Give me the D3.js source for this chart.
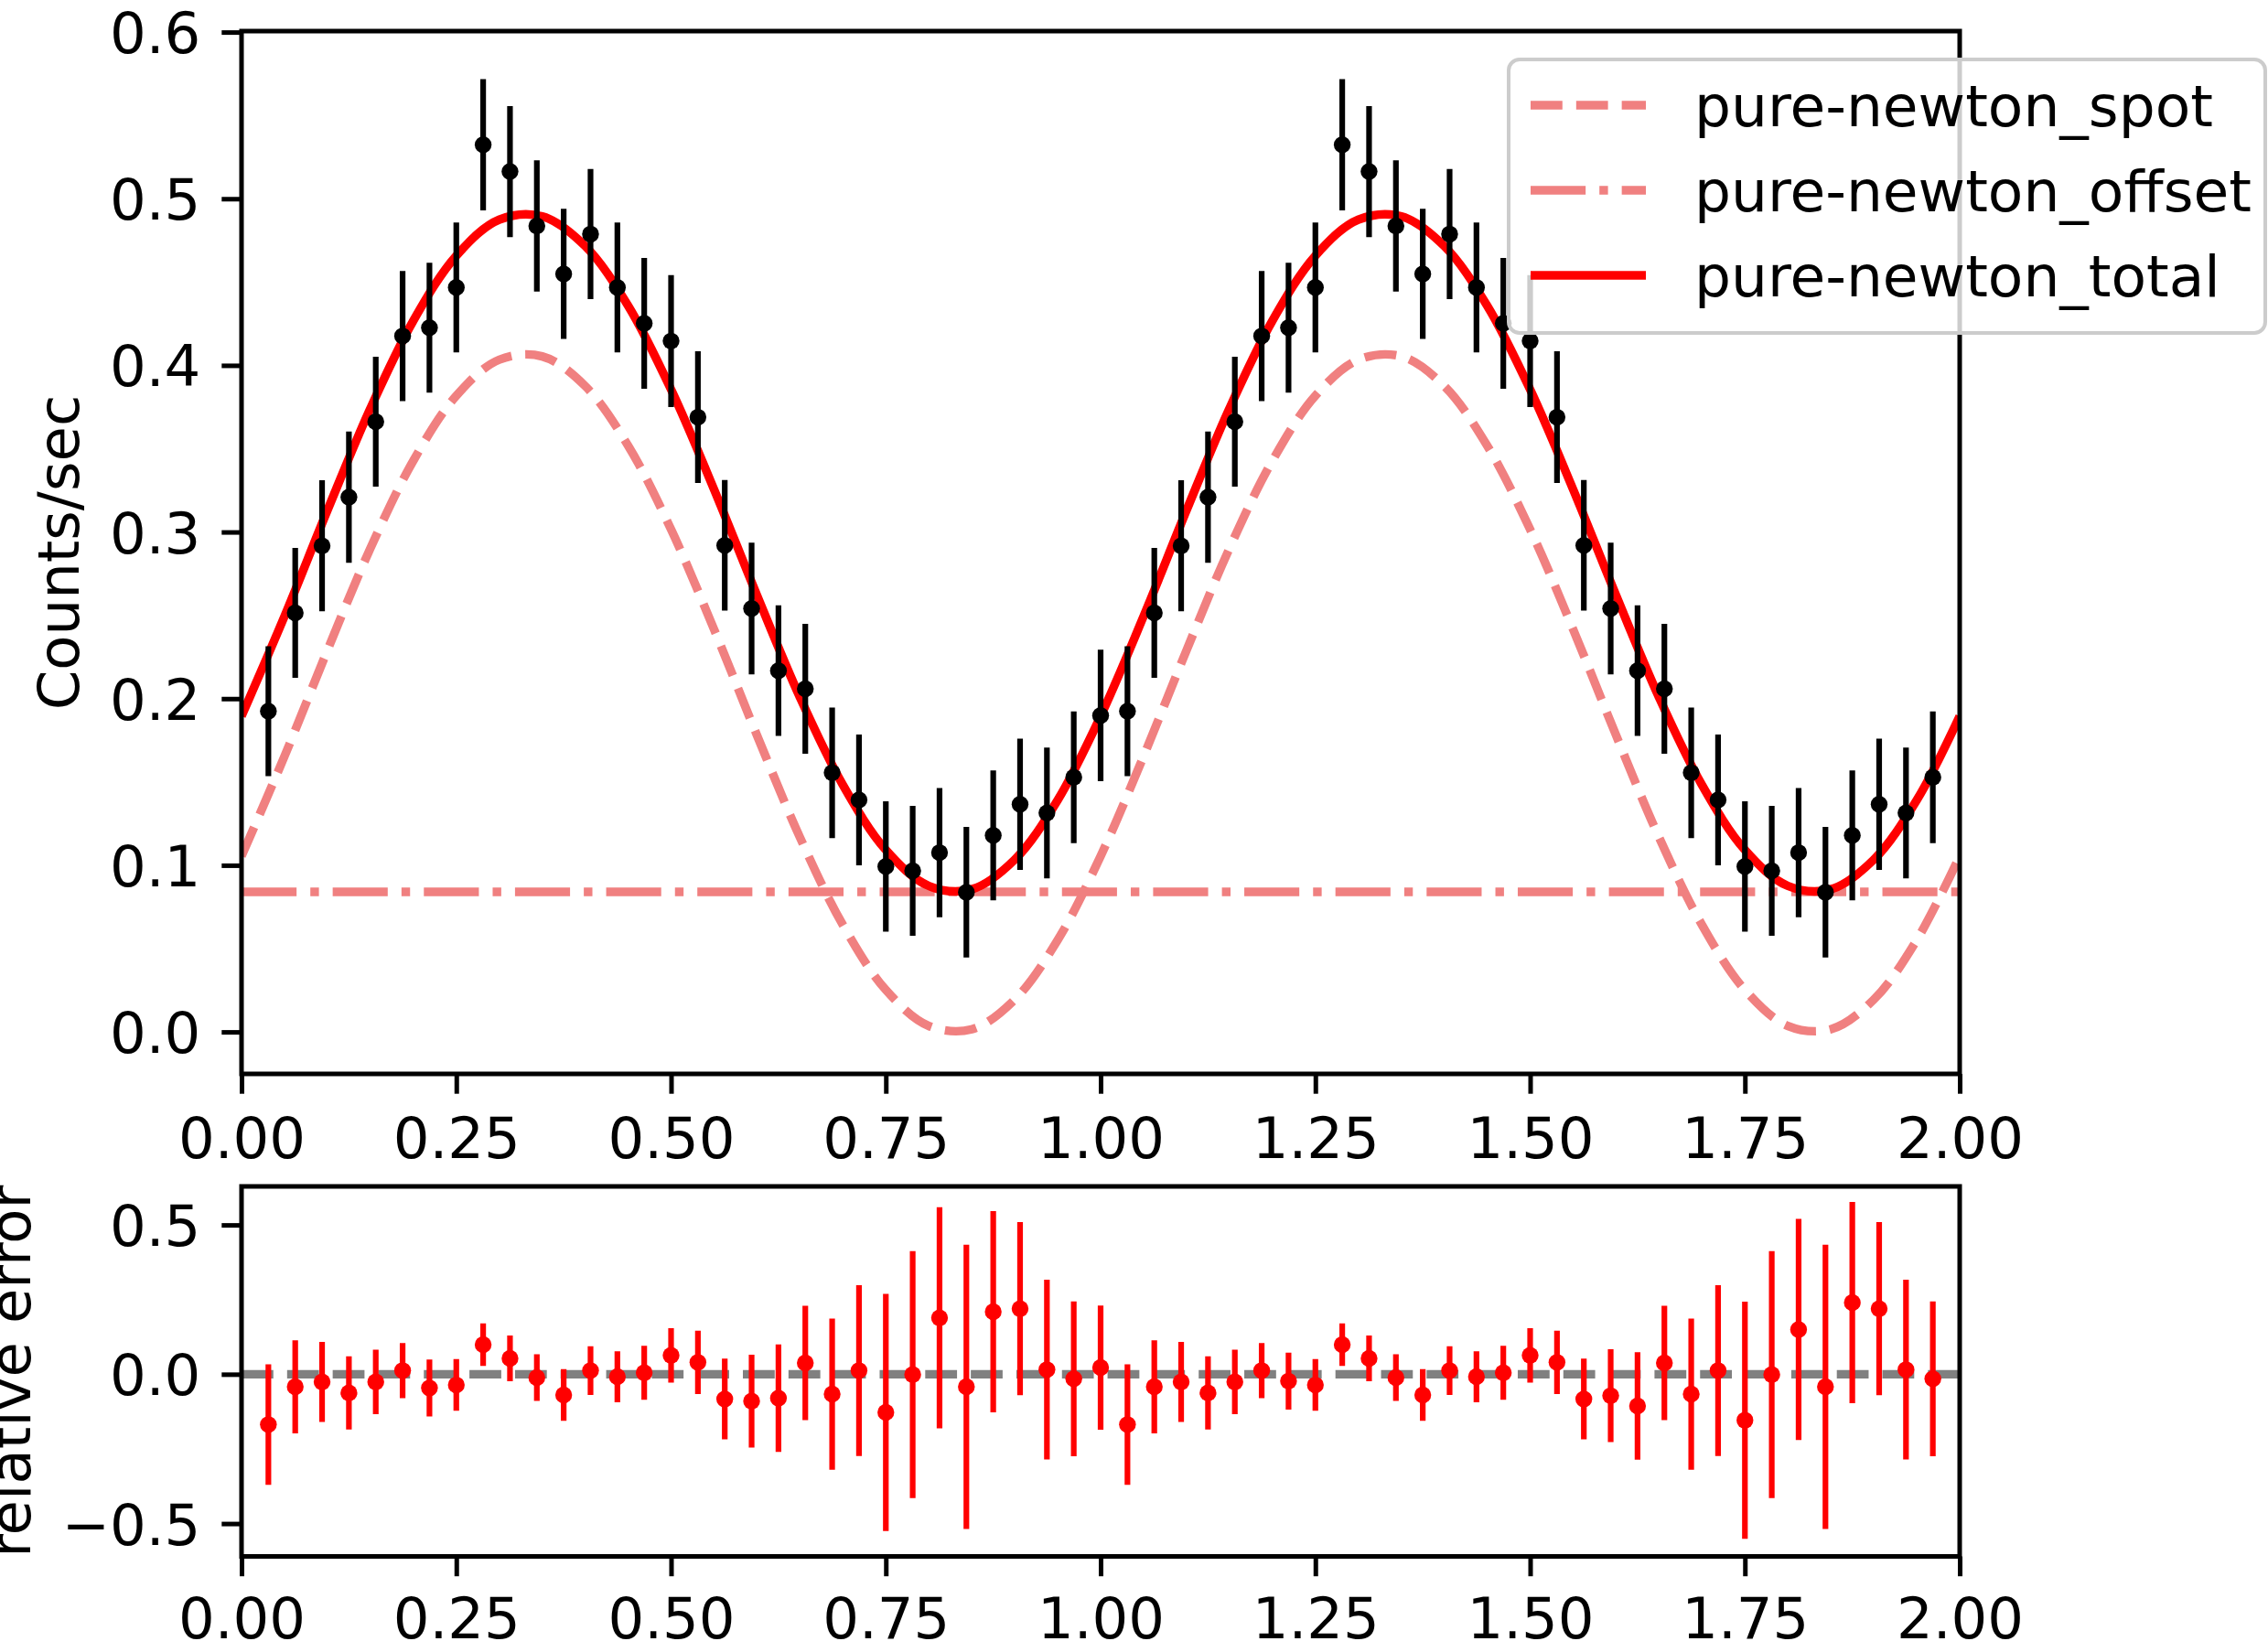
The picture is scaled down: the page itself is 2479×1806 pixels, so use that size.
<!DOCTYPE html>
<html><head><meta charset="utf-8">
<script src="https://cdn.jsdelivr.net/npm/d3@7"></script>
<style>
body{margin:0;background:#fff}
svg{display:block}
text{font-family:"DejaVu Sans",sans-serif;fill:#000}
</style>
</head><body>
<script>
// ---------- data ----------
const phase = [0.03125,0.0625,0.09375,0.125,0.15625,0.1875,0.21875,0.25,0.28125,0.3125,0.34375,0.375,0.40625,0.4375,0.46875,0.5,
  0.53125,0.5625,0.59375,0.625,0.65625,0.6875,0.71875,0.75,0.78125,0.8125,0.84375,0.875,0.90625,0.9375,0.96875,1.0,
  1.03125,1.0625,1.09375,1.125,1.15625,1.1875,1.21875,1.25,1.28125,1.3125,1.34375,1.375,1.40625,1.4375,1.46875,1.5,
  1.53125,1.5625,1.59375,1.625,1.65625,1.6875,1.71875,1.75,1.78125,1.8125,1.84375,1.875,1.90625,1.9375,1.96875];

// one cycle of folded count rates (phase bins 1/32 .. 32/32); the plot shows two cycles
const rateCycle = [0.1925,0.2515,0.2917,0.3209,0.3662,0.4176,0.4226,0.4468,0.5324,0.5163,0.4837,0.4549,0.4788,0.4468,0.4252,0.4146,
  0.3689,0.2920,0.2541,0.2168,0.2059,0.1555,0.1392,0.0993,0.0967,0.1076,0.0838,0.1179,0.1366,0.1314,0.1528,0.1899];
const rateErrCycle = [0.039,0.039,0.0393,0.0394,0.039,0.039,0.039,0.039,0.0394,0.0393,0.0394,0.039,0.039,0.039,0.0393,0.0396,
  0.0395,0.0392,0.0395,0.0392,0.039,0.0392,0.0392,0.0391,0.039,0.0388,0.0392,0.039,0.0394,0.0392,0.0395,0.0395];
// relative error, first cycle (phase 1/32 .. 32/32) and second cycle (33/32 .. 63/32)
const relFirst = [-0.1685,-0.042,-0.0257,-0.0624,-0.0257,0.0122,-0.046,-0.036,0.099,0.053,-0.0113,-0.0695,0.0122,-0.0083,0.005,0.063,
  0.0398,-0.0828,-0.090,-0.080,0.0377,-0.0665,0.0122,-0.1278,-0.001,0.189,-0.042,0.2093,0.2195,0.0153,-0.0153,0.0224];
const relSecond = [-0.1685,-0.042,-0.0257,-0.0624,-0.0257,0.0122,-0.023,-0.036,0.099,0.053,-0.0113,-0.0695,0.0122,-0.0083,0.005,0.063,
  0.0398,-0.0828,-0.072,-0.106,0.0377,-0.0665,0.0122,-0.154,-0.001,0.150,-0.042,0.240,0.2195,0.0153,-0.0153];
const relErrCycle = [0.202,0.156,0.134,0.1225,0.108,0.092,0.0955,0.0865,0.0715,0.0764,0.078,0.0867,0.0818,0.0853,0.0905,0.091,
  0.106,0.135,0.1555,0.180,0.1915,0.253,0.286,0.397,0.4136,0.370,0.476,0.337,0.290,0.301,0.259,0.208];

// model curves, sampled every 0.05 in phase
const modelPhase = [0,0.05,0.1,0.15,0.2,0.25,0.3,0.35,0.4,0.45,0.5,0.55,0.6,0.65,0.7,0.75,0.8,0.85,0.9,0.95,
  1.0,1.05,1.1,1.15,1.2,1.25,1.3,1.35,1.4,1.45,1.5,1.55,1.6,1.65,1.7,1.75,1.8,1.85,1.9,1.95,2.0];
const spotCycle = [0.1055,0.1654,0.2290,0.2902,0.3428,0.3818,0.4034,0.4054,0.3876,0.3518,0.3015,0.2416,0.1780,0.1168,0.0642,0.0252,0.0036,0.0016,0.0194,0.0551];
const totalCycle = [0.1895,0.2494,0.3130,0.3742,0.4268,0.4658,0.4874,0.4894,0.4716,0.4358,0.3855,0.3256,0.2620,0.2008,0.1482,0.1092,0.0876,0.0856,0.1034,0.1391];
const offsetLevel = 0.084;

const xTicks = [0,0.25,0.5,0.75,1.0,1.25,1.5,1.75,2.0];
const yTicksTop = [0,0.1,0.2,0.3,0.4,0.5,0.6];
const yTicksBottom = [-0.5,0,0.5];
const legendLabels = ["pure-newton_spot","pure-newton_offset","pure-newton_total"];
const yLabelTop = "Counts/sec";
const yLabelBottom = "relative error";

// two folded cycles
const rate = rateCycle.concat(rateCycle.slice(0,31));
const rateErr = rateErrCycle.concat(rateErrCycle.slice(0,31));
const rel = relFirst.concat(relSecond);
const relErr = relErrCycle.concat(relErrCycle.slice(0,31));
const spot = spotCycle.concat(spotCycle,[spotCycle[0]]);
const total = totalCycle.concat(totalCycle,[totalCycle[0]]);
const offset = modelPhase.map(()=>offsetLevel);

// ---------- layout ----------
const W=2479,H=1806;
const FS=62.5, LW=9.4, SPINE=5, TICK=21.7;
const xL=264, xR=2142;
const topT=34, topB=1174, botT=1297, botB=1701.5;

const svg=d3.select("body").append("svg").attr("width",W).attr("height",H);
svg.append("rect").attr("width",W).attr("height",H).attr("fill","#fff");

const x=d3.scaleLinear().domain([0,2]).range([xL,xR]);
const yT=d3.scaleLinear().domain([-0.0252,0.6006]).range([topB,topT]);
const yB=d3.scaleLinear().domain([-0.610,0.629]).range([botB,botT]);

const defs=svg.append("defs");
defs.append("clipPath").attr("id","clipT").append("rect").attr("x",xL).attr("y",topT).attr("width",xR-xL).attr("height",topB-topT);
defs.append("clipPath").attr("id","clipB").append("rect").attr("x",xL).attr("y",botT).attr("width",xR-xL).attr("height",botB-botT);

// ---------- top panel ----------
const gT=svg.append("g").attr("clip-path","url(#clipT)");
const lineT=(vals)=>d3.line().x((d,i)=>x(modelPhase[i])).y(d=>yT(d)).curve(d3.curveCatmullRom)(vals);
gT.append("path").attr("d",lineT(spot)).attr("fill","none").attr("stroke","#f08080").attr("stroke-width",LW)
  .attr("stroke-dasharray",`${3.7*LW},${1.6*LW}`);
gT.append("path").attr("d",d3.line().x((d,i)=>x(modelPhase[i])).y(d=>yT(d))(offset)).attr("fill","none").attr("stroke","#f08080").attr("stroke-width",LW)
  .attr("stroke-dasharray",`${6.4*LW},${1.6*LW},${1*LW},${1.6*LW}`);
gT.append("path").attr("d",lineT(total)).attr("fill","none").attr("stroke","#ff0000").attr("stroke-width",LW);

const pts=phase.map((p,i)=>({p,v:rate[i],e:rateErr[i]}));
gT.selectAll("line.eb").data(pts).join("line").attr("class","eb")
  .attr("x1",d=>x(d.p)).attr("x2",d=>x(d.p)).attr("y1",d=>yT(d.v-d.e)).attr("y2",d=>yT(d.v+d.e))
  .attr("stroke","#000").attr("stroke-width",6.2);
gT.selectAll("circle").data(pts).join("circle").attr("cx",d=>x(d.p)).attr("cy",d=>yT(d.v)).attr("r",9.2).attr("fill","#000");

// ---------- bottom panel ----------
const gB=svg.append("g").attr("clip-path","url(#clipB)");
gB.append("path").attr("d",d3.line().x(d=>x(d)).y(()=>yB(0))([0,2])).attr("stroke","#808080").attr("stroke-width",LW)
  .attr("stroke-dasharray",`${3.7*LW},${1.6*LW}`).attr("fill","none");
const rpts=phase.map((p,i)=>({p,v:rel[i],e:relErr[i]}));
gB.selectAll("line.eb").data(rpts).join("line").attr("class","eb")
  .attr("x1",d=>x(d.p)).attr("x2",d=>x(d.p)).attr("y1",d=>yB(d.v-d.e)).attr("y2",d=>yB(d.v+d.e))
  .attr("stroke","#ff0000").attr("stroke-width",6.2);
gB.selectAll("circle").data(rpts).join("circle").attr("cx",d=>x(d.p)).attr("cy",d=>yB(d.v)).attr("r",9.2).attr("fill","#ff0000");

// ---------- axes ----------
function styleAxis(g){
  g.select(".domain").remove();
  g.selectAll(".tick line").attr("stroke","#000").attr("stroke-width",SPINE);
  g.selectAll(".tick text").attr("font-size",FS).attr("font-family","DejaVu Sans").attr("fill","#000");
}
const fmt2=d3.format(".2f"), fmt1=d3.format(".1f");
svg.append("g").attr("transform",`translate(0,${topB})`)
  .call(d3.axisBottom(x).tickValues(xTicks).tickFormat(fmt2).tickSize(TICK).tickPadding(26)).call(styleAxis);
svg.append("g").attr("transform",`translate(0,${botB})`)
  .call(d3.axisBottom(x).tickValues(xTicks).tickFormat(fmt2).tickSize(TICK).tickPadding(23)).call(styleAxis);
svg.append("g").attr("transform",`translate(${xL},0)`)
  .call(d3.axisLeft(yT).tickValues(yTicksTop).tickFormat(fmt1).tickSize(TICK).tickPadding(23)).call(styleAxis)
  .selectAll(".tick text").attr("dy","0.36em");
svg.append("g").attr("transform",`translate(${xL},0)`)
  .call(d3.axisLeft(yB).tickValues(yTicksBottom).tickFormat(fmt1).tickSize(TICK).tickPadding(23)).call(styleAxis)
  .selectAll(".tick text").attr("dy","0.36em");

// spines
svg.append("rect").attr("x",xL).attr("y",topT).attr("width",xR-xL).attr("height",topB-topT)
  .attr("fill","none").attr("stroke","#000").attr("stroke-width",SPINE);
svg.append("rect").attr("x",xL).attr("y",botT).attr("width",xR-xL).attr("height",botB-botT)
  .attr("fill","none").attr("stroke","#000").attr("stroke-width",SPINE);

// axis labels
svg.append("text").attr("transform",`translate(86,${(topT+topB)/2}) rotate(-90)`).attr("text-anchor","middle")
  .attr("font-size",FS).text(yLabelTop);
svg.append("text").attr("transform",`translate(33,${(botT+botB)/2}) rotate(-90)`).attr("text-anchor","middle")
  .attr("font-size",FS).text(yLabelBottom);

// ---------- legend ----------
const lg=svg.append("g");
lg.append("rect").attr("x",1649).attr("y",65).attr("width",827).attr("height",299).attr("rx",12)
  .attr("fill","#fff").attr("fill-opacity",0.8).attr("stroke","#cccccc").attr("stroke-width",4);
const legendStyles=[
  {c:"#f08080",dash:`${3.7*LW},${1.6*LW}`},
  {c:"#f08080",dash:`${6.4*LW},${1.6*LW},${1*LW},${1.6*LW}`},
  {c:"#ff0000",dash:null}
];
legendLabels.forEach((lab,i)=>{
  const cy=115+i*93;
  const l=lg.append("line").attr("x1",1673).attr("x2",1799).attr("y1",cy).attr("y2",cy)
    .attr("stroke",legendStyles[i].c).attr("stroke-width",LW);
  if(legendStyles[i].dash) l.attr("stroke-dasharray",legendStyles[i].dash);
  lg.append("text").attr("x",1852).attr("y",cy).attr("dy","0.36em").attr("font-size",63).text(lab);
});
</script>
</body></html>
